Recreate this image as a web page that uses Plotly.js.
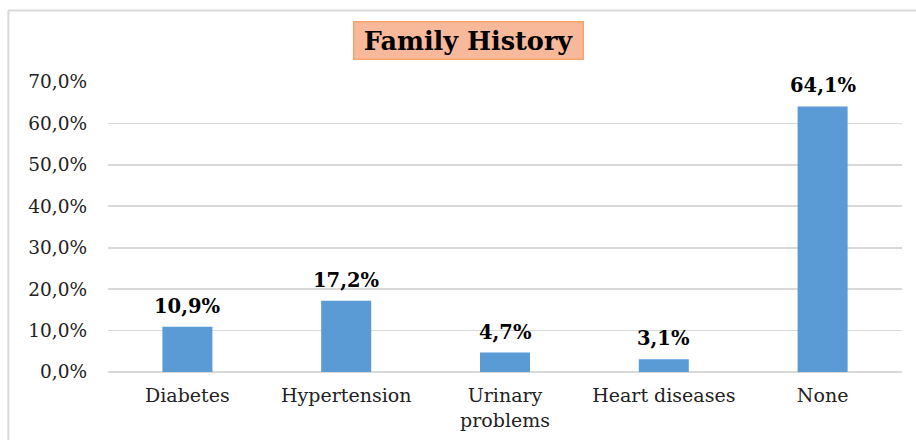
<!DOCTYPE html>
<html>
<head>
<meta charset="utf-8">
<script src="https://cdn.plot.ly/plotly-3.0.1.min.js"></script>
<style>
html,body{margin:0;padding:0;background:#fff;}
#chart{width:916px;height:440px;}
</style>
</head>
<body>
<div id="chart"></div>
<script>
const categories = ["Diabetes", "Hypertension", "Urinary<br>problems", "Heart diseases", "None"];
const values = [10.9, 17.2, 4.7, 3.1, 64.1];
const yTickValues = [0, 10, 20, 30, 40, 50, 60, 70];
const yTickLabels = ["0,0%", "10,0%", "20,0%", "30,0%", "40,0%", "50,0%", "60,0%", "70,0%"];
const chartTitle = "Family History";

const serif = "DejaVu Serif";

const trace = {
  type: "bar",
  x: categories,
  y: values,
  width: 0.315,
  marker: { color: "#5b9bd5" },
  hoverinfo: "skip"
};

const labelAnnotations = values.map((v, i) => ({
  x: categories[i],
  y: v,
  xref: "x",
  yref: "y",
  text: "<b>" + v.toFixed(1).replace(".", ",") + "%</b>",
  showarrow: false,
  yanchor: "bottom",
  yshift: 7,
  font: { family: serif, size: 19.5, color: "#000000" }
}));

const layout = {
  width: 916,
  height: 440,
  margin: { l: 108, r: 14, t: 82, b: 68 },
  paper_bgcolor: "#ffffff",
  plot_bgcolor: "#ffffff",
  showlegend: false,
  xaxis: {
    type: "category",
    showgrid: false,
    showline: false,
    ticks: "",
    ticklabelstandoff: 10,
    tickfont: { family: serif, size: 19, color: "#222222" },
    automargin: false
  },
  yaxis: {
    range: [0, 70],
    tickmode: "array",
    tickvals: yTickValues,
    ticktext: yTickLabels,
    showgrid: true,
    gridcolor: "#d9d9d9",
    gridwidth: 1.8,
    zeroline: true,
    zerolinecolor: "#d9d9d9",
    zerolinewidth: 1.8,
    showline: false,
    ticks: "",
    ticklabelstandoff: 20,
    tickfont: { family: serif, size: 18.5, color: "#222222" },
    automargin: false
  },
  annotations: labelAnnotations.concat([{
    xref: "paper",
    yref: "paper",
    x: 0.454,
    y: 1.142,
    xanchor: "center",
    yanchor: "middle",
    text: "<b>" + chartTitle + "</b>",
    showarrow: false,
    font: { family: serif, size: 25.5, color: "#000000" },
    bgcolor: "#f8b99a",
    bordercolor: "#f4a46c",
    borderwidth: 1.5,
    borderpad: 2,
    width: 224,
    height: 32
  }]),
  shapes: [
    { type: "line", xref: "paper", yref: "paper", x0: -0.126, x1: 1.02, y0: 1.2465, y1: 1.2465, line: { color: "#d9d9d9", width: 2 } },
    { type: "line", xref: "paper", yref: "paper", x0: -0.1255, x1: -0.1255, y0: 1.2465, y1: -0.25, line: { color: "#d9d9d9", width: 2 } }
  ]
};

Plotly.newPlot("chart", [trace], layout, { displayModeBar: false, staticPlot: true });
</script>
</body>
</html>
